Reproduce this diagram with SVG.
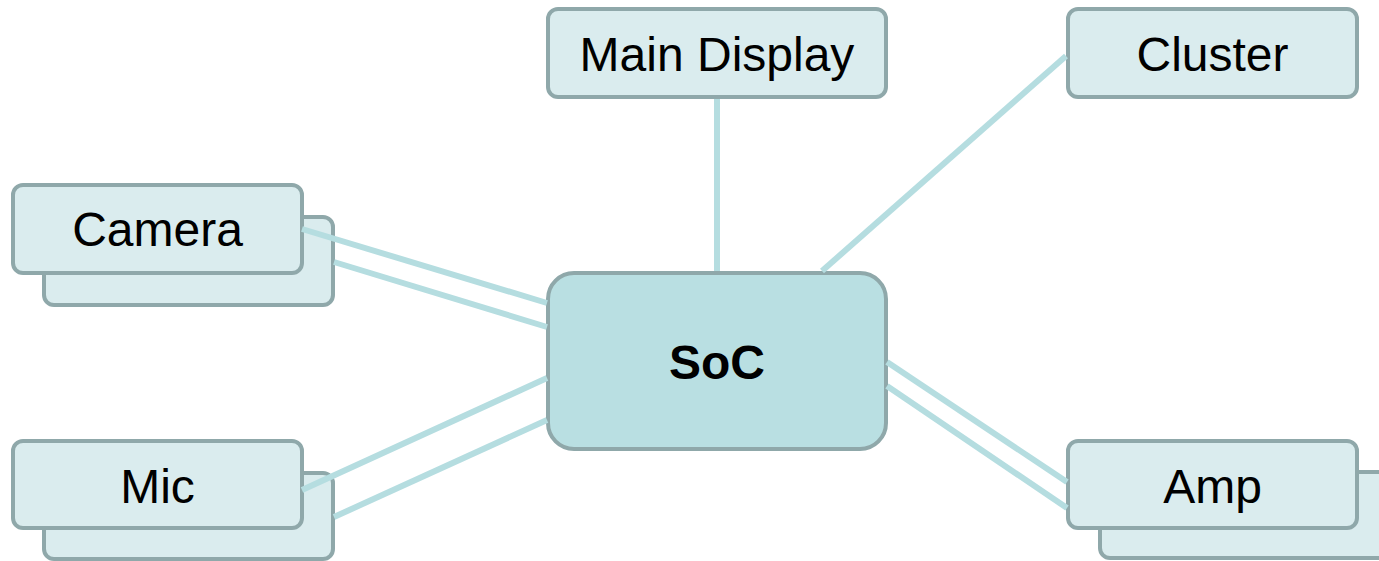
<svg xmlns="http://www.w3.org/2000/svg" width="1379" height="561" viewBox="0 0 1379 561">
<style>
.box{fill:#daecee;stroke:#8fa8aa;stroke-width:4}
.soc{fill:#b9dfe2;stroke:#8fa8aa;stroke-width:4}
.lbl{font-family:"Liberation Sans",Arial,sans-serif;font-size:48px;fill:#000;text-anchor:middle}
.bold{font-weight:bold}
.conn line{stroke:#b5dde0;stroke-width:6}
</style>
<rect width="1379" height="561" fill="#fff"/>
<g id="soc">
<rect class="soc" x="548" y="273" width="338" height="176" rx="26"/>
<text class="lbl bold" x="717" y="379">SoC</text>
</g>
<g id="main-display">
<rect class="box" x="548" y="9" width="338" height="88" rx="10"/>
<text class="lbl" x="717" y="71">Main Display</text>
</g>
<g id="cluster">
<rect class="box" x="1068" y="9" width="289" height="88" rx="10"/>
<text class="lbl" x="1212.5" y="71">Cluster</text>
</g>
<g id="camera">
<rect class="box" x="44" y="217" width="289" height="88" rx="10"/>
<rect class="box" x="13" y="185" width="289" height="88" rx="10"/>
<text class="lbl" x="157.5" y="246">Camera</text>
</g>
<g id="mic">
<rect class="box" x="44" y="473" width="289" height="86" rx="10"/>
<rect class="box" x="13" y="441" width="289" height="87" rx="10"/>
<text class="lbl" x="157.5" y="503">Mic</text>
</g>
<g id="amp">
<rect class="box" x="1100" y="472" width="289" height="86" rx="10"/>
<rect class="box" x="1068" y="441" width="289" height="87" rx="10"/>
<text class="lbl" x="1212.5" y="503">Amp</text>
</g>
<g id="connectors" class="conn">
<line x1="717" y1="99" x2="717" y2="271"/>
<line x1="1066" y1="56" x2="822" y2="271"/>
<line x1="302" y1="229" x2="547" y2="303"/>
<line x1="334" y1="262" x2="547" y2="327"/>
<line x1="302" y1="490" x2="547" y2="378"/>
<line x1="334" y1="517" x2="547" y2="420"/>
<line x1="887" y1="362" x2="1067" y2="482"/>
<line x1="887" y1="386" x2="1067" y2="508"/>
</g>
</svg>
